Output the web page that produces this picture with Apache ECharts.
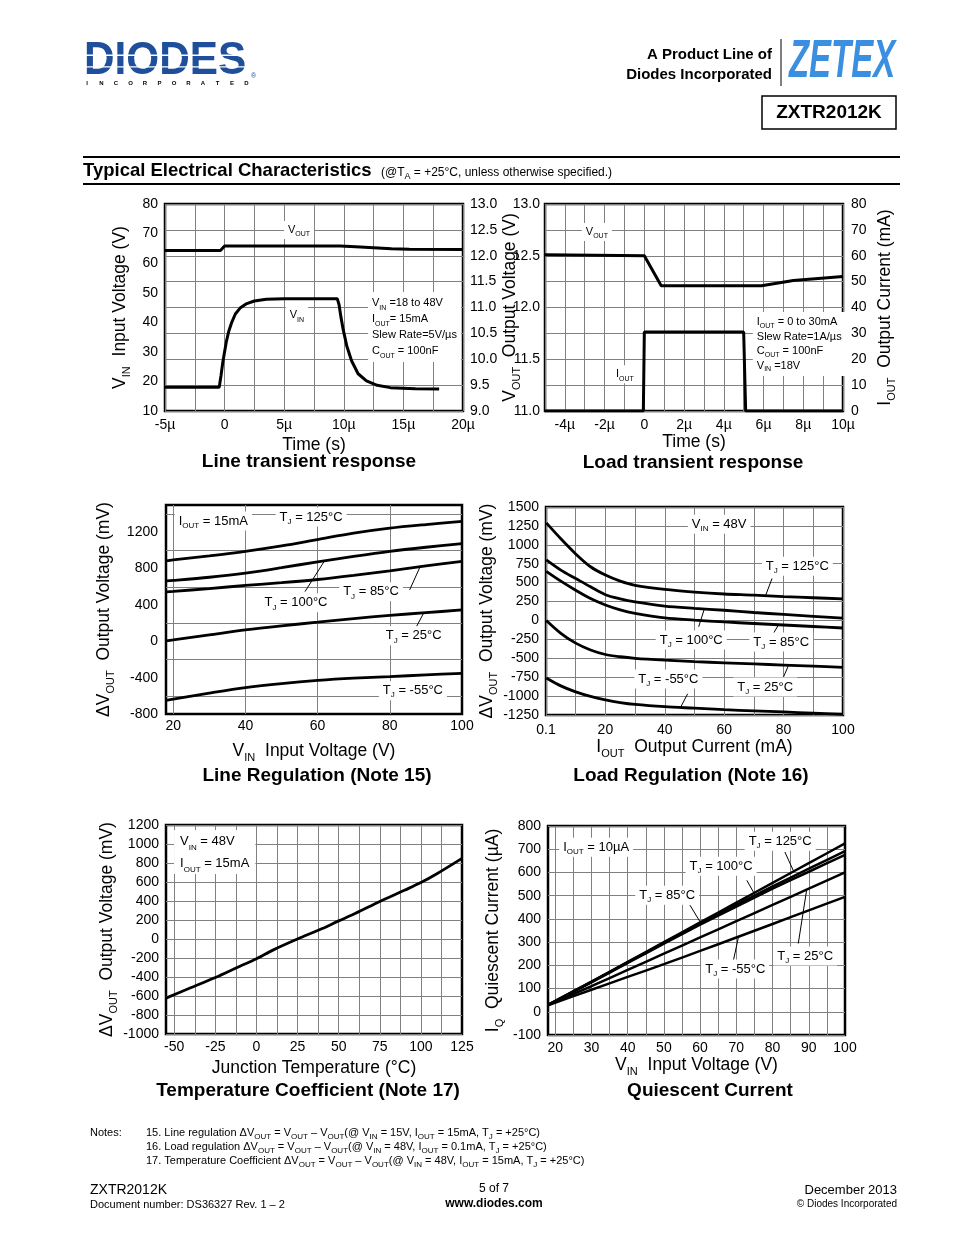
<!DOCTYPE html>
<html>
<head>
<meta charset="utf-8">
<script src="https://cdn.jsdelivr.net/npm/echarts@6.0.0/dist/echarts.min.js"></script>
<style>
html,body{margin:0;padding:0;background:#ffffff;}
#chart{width:954px;height:1235px;}
</style>
</head>
<body>
<div id="chart"></div>
<script>
const FONT = "'Liberation Sans', Arial, Helvetica, sans-serif";

// ---------------- DATA ----------------
// Line transient response (time in µs)
const ltVinTime = [-5, -0.45, -0.3, -0.15, 0, 0.15, 0.35, 0.6, 0.9, 1.3, 1.8, 2.5, 3.5, 5, 9.45, 9.6, 9.75, 9.95, 10.25, 10.65, 11.2, 11.9, 12.8, 13.9, 16, 18];
const ltVin = [18, 18, 22, 26.5, 30, 33.5, 37, 40, 42.8, 44.8, 46.2, 47.2, 47.8, 48, 48, 46, 42, 37.5, 32, 27, 22.6, 20.2, 18.7, 17.9, 17.5, 17.4];
const ltVoutTime = [-5, -0.35, 0, 9.7, 11, 12.5, 14, 15.5, 20];
const ltVout = [12.1, 12.1, 12.19, 12.19, 12.175, 12.155, 12.135, 12.125, 12.12];

// Load transient response
const ldVoutTime = [-5, 0, 0.85, 5.9, 7.5, 10];
const ldVout = [12.51, 12.5, 12.21, 12.21, 12.26, 12.3];
const ldIoutTime = [-5, -0.05, 0, 5.0, 5.1, 10];
const ldIout = [0, 0, 30.5, 30.5, 0, 0];

// Line regulation (VIN in V, dVout in mV)
const lrVin = [18, 20, 30, 40, 50, 60, 70, 80, 90, 100];
const lrT125 = [885, 895, 940, 990, 1050, 1120, 1190, 1245, 1285, 1320];
const lrT100 = [665, 670, 705, 750, 810, 875, 935, 990, 1035, 1075];
const lrT85 = [545, 550, 580, 615, 645, 680, 725, 775, 830, 880];
const lrT25 = [5, 15, 70, 125, 170, 210, 250, 285, 315, 345];
const lrTm55 = [-650, -635, -570, -510, -465, -430, -405, -388, -370, -352];

// Load regulation (IOUT in mA, dVout in mV)
const lgIout = [0.1, 5, 10, 15, 20, 25, 30, 40, 50, 60, 70, 80, 90, 100];
const lgT125 = [1290, 1080, 880, 710, 600, 520, 465, 410, 375, 350, 335, 315, 300, 285];
const lgT100 = [800, 665, 555, 445, 340, 285, 245, 190, 160, 135, 105, 80, 55, 30];
const lgT85 = [650, 520, 400, 290, 205, 140, 95, 35, 5, -20, -40, -60, -80, -100];
const lgT25 = [0, -170, -300, -390, -450, -480, -500, -525, -545, -560, -575, -590, -605, -620];
const lgTm55 = [-760, -865, -945, -1005, -1050, -1085, -1110, -1140, -1160, -1180, -1195, -1210, -1225, -1240];

// Temperature coefficient (°C, mV)
const tcTemp = [-55, -40, -25, -10, 0, 10, 25, 40, 50, 60, 75, 90, 100, 110, 125];
const tcDv = [-622, -514, -405, -286, -209, -117, 0, 110, 191, 268, 394, 513, 594, 690, 849];

// Quiescent current (VIN in V, IQ in µA)
const qcVin = [18, 30, 40, 50, 60, 70, 80, 90, 100];
const qcT125 = [30, 130, 215, 300, 385, 470, 555, 640, 725];
const qcT100 = [30, 129, 213, 297, 380, 460, 540, 616, 692];
const qcT85 = [30, 127, 210, 293, 375, 453, 530, 603, 676];
const qcT25 = [30, 110, 180, 250, 320, 390, 460, 530, 600];
const qcTm55 = [28, 95, 150, 205, 262, 320, 378, 437, 495];

// tick categories for axes whose ticks don't start at the axis min
const lrXCats = []; for (let v = 18; v <= 100; v++) lrXCats.push(String(v));
const lrYGridCats = []; for (let v = -800; v <= 1500; v += 100) lrYGridCats.push(String(v));
const tcXCats = []; for (let v = -55; v <= 125; v += 2.5) tcXCats.push(String(v));
const qcXCats = []; for (let v = 18; v <= 100; v++) qcXCats.push(String(v));

// ---------------- HELPERS ----------------
function rt(s, m, sb) {
  m = m || 'a'; sb = sb || 's';
  return s.split('\n').map(line => {
    const parts = line.split(/_\{([^}]*)\}/);
    let out = '';
    parts.forEach((p, i) => { if (p === '') return; out += '{' + (i % 2 ? sb : m) + '|' + p + '}'; });
    return out;
  }).join('\n');
}
const zip = (xs, ys) => xs.map((x, i) => [x, ys[i]]);

const GL = {show: true, lineStyle: {color: '#808080', width: 1}};
const LBL = {color: '#000', fontSize: 14, fontFamily: FONT};
const NAME_RICH = {
  n: {fontSize: 17.5, fontFamily: FONT, color: '#000', lineHeight: 24},
  s: {fontSize: 11, fontFamily: FONT, color: '#000', lineHeight: 12, verticalAlign: 'bottom'}
};
const nameTS = () => ({rich: NAME_RICH, color: '#000', fontFamily: FONT});
const plain = v => String(v);

function vAxis(o) {
  const r = Object.assign({
    type: 'value', axisLine: {show: false, onZero: false}, axisTick: {show: false},
    splitLine: {show: false}, nameLocation: 'middle', nameTextStyle: nameTS()
  }, o);
  r.axisLabel = Object.assign({formatter: plain}, LBL, o.axisLabel || {});
  return r;
}
function hAxis(o) {
  return Object.assign({type: 'value', show: false, axisLine: {show: false, onZero: false}}, o);
}
function catAxis(o) {
  const r = Object.assign({
    type: 'category', boundaryGap: false, axisLine: {show: false, onZero: false}, axisTick: {show: false},
    splitLine: {show: false}, nameLocation: 'middle', nameTextStyle: nameTS()
  }, o);
  r.axisLabel = Object.assign({show: false}, LBL, o.axisLabel || {});
  return r;
}
const muFmt = step => v => (Math.abs(v % step) < 1e-9) ? (v === 0 ? '0' : v + 'µ') : '';

function line(xi, yi, xs, ys, smooth, w) {
  return {type: 'line', xAxisIndex: xi, yAxisIndex: yi, data: zip(xs, ys), showSymbol: false, symbol: 'none',
    smooth: smooth || false, lineStyle: {color: '#000', width: w || 3}, silent: true, z: 3};
}

// ---------------- OPTION ----------------
const gridPos = [
  {left: 165, top: 204, width: 298, height: 207},
  {left: 545, top: 204, width: 298, height: 207},
  {left: 166, top: 505, width: 296, height: 209},
  {left: 546, top: 507, width: 297, height: 208},
  {left: 166, top: 825, width: 296, height: 209},
  {left: 548, top: 826, width: 297, height: 209}
];

const leaders = [
  {xi: 2, yi: 4, pts: [[56.5, 547], [62, 890]]},
  {xi: 2, yi: 4, pts: [[85.5, 566], [88.5, 830]]},
  {xi: 2, yi: 4, pts: [[87.4, 163], [89.3, 305]]},
  {xi: 4, yi: 6, pts: [[76.1, 555], [74, 335]]},
  {xi: 4, yi: 6, pts: [[51.4, -84], [53.3, 150]]},
  {xi: 4, yi: 6, pts: [[76.6, -171], [78.3, -55]]},
  {xi: 4, yi: 6, pts: [[45.3, -1150], [47.7, -970]]},
  {xi: 4, yi: 6, pts: [[80, -744], [81.7, -590]]},
  {xi: 7, yi: 8, pts: [[83.4, 688], [85.7, 609]]},
  {xi: 7, yi: 8, pts: [[72.9, 566], [75.2, 502]]},
  {xi: 7, yi: 8, pts: [[57.2, 459], [60, 387]]},
  {xi: 7, yi: 8, pts: [[87.1, 294], [89.4, 523]]},
  {xi: 7, yi: 8, pts: [[69.2, 222], [70.6, 323]]}
];

const option = {
  animation: false,
  backgroundColor: '#fff',
  grid: gridPos.map(g => Object.assign({show: true, borderColor: '#000', borderWidth: 2.5, backgroundColor: 'transparent', containLabel: false, outerBoundsMode: 'none'}, g)),
  xAxis: [
    vAxis({gridIndex: 0, position: 'bottom', min: -5, max: 20, interval: 2.5, splitLine: GL,
      axisLabel: {margin: 7, formatter: muFmt(5)}, name: rt('Time (s)', 'n'), nameGap: 22}),
    vAxis({gridIndex: 1, position: 'bottom', min: -5, max: 10, interval: 1, splitLine: GL,
      axisLabel: {margin: 7, formatter: muFmt(2)}, name: rt('Time (s)', 'n'), nameGap: 17}),
    hAxis({gridIndex: 2, min: 18, max: 100}),
    catAxis({gridIndex: 2, position: 'bottom', data: lrXCats,
      axisLabel: {show: true, margin: 5, interval: (i, v) => Number(v) % 20 === 0},
      splitLine: Object.assign({}, GL, {interval: (i, v) => { const n = Number(v); return n % 20 === 0 && n < 100; }}),
      name: rt('V_{IN}  Input Voltage (V)', 'n'), nameGap: 25}),
    vAxis({gridIndex: 3, position: 'bottom', min: 0, max: 100, interval: 10, splitLine: GL,
      axisLabel: {margin: 8, formatter: v => v === 0 ? '0.1' : (v % 20 === 0 ? String(v) : '')},
      name: rt('I_{OUT}  Output Current (mA)', 'n'), nameGap: 20}),
    hAxis({gridIndex: 4, min: -55, max: 125}),
    catAxis({gridIndex: 4, position: 'bottom', data: tcXCats,
      axisLabel: {show: true, margin: 6, interval: (i, v) => { const n = Number(v); return n % 25 === 0 && n >= -50; }},
      splitLine: Object.assign({}, GL, {interval: (i, v) => { const n = Number(v); return (n + 50) % 12.5 === 0 && n > -55 && n < 125; }}),
      name: rt('Junction Temperature (°C)', 'n'), nameGap: 22}),
    hAxis({gridIndex: 5, min: 18, max: 100}),
    catAxis({gridIndex: 5, position: 'bottom', data: qcXCats,
      axisLabel: {show: true, margin: 6, interval: (i, v) => { const n = Number(v); return n % 10 === 0 && n >= 20; }},
      splitLine: Object.assign({}, GL, {interval: (i, v) => { const n = Number(v); return n % 5 === 0 && n >= 20 && n < 100; }}),
      name: rt('V_{IN}  Input Voltage (V)', 'n'), nameGap: 18})
  ],
  yAxis: [
    vAxis({gridIndex: 0, position: 'left', min: 10, max: 80, interval: 10, axisLabel: {margin: 7},
      name: rt('V_{IN}  Input Voltage (V)', 'n'), nameRotate: 90, nameGap: 33}),
    vAxis({gridIndex: 0, position: 'right', min: 9, max: 13, interval: 0.5, splitLine: GL,
      axisLabel: {margin: 7, formatter: v => v.toFixed(1)},
      name: rt('V_{OUT}  Output Voltage (V)', 'n'), nameRotate: 90, nameGap: 32}),
    vAxis({gridIndex: 1, position: 'left', min: 11, max: 13, interval: 0.5,
      axisLabel: {margin: 5, formatter: v => v.toFixed(1)}}),
    vAxis({gridIndex: 1, position: 'right', min: 0, max: 80, interval: 10, splitLine: GL, axisLabel: {margin: 8},
      name: rt('I_{OUT}  Output Current (mA)', 'n'), nameRotate: 90, nameGap: 30}),
    vAxis({gridIndex: 2, position: 'left', min: -800, max: 1500, interval: 400,
      axisLabel: {margin: 8, formatter: v => v > 1200 ? '' : String(v)},
      name: rt('ΔV_{OUT}  Output Voltage (mV)', 'n'), nameRotate: 90, nameGap: 50}),
    catAxis({gridIndex: 2, position: 'left', data: lrYGridCats,
      splitLine: Object.assign({}, GL, {interval: (i, v) => { const n = Number(v); return (n + 600) % 400 === 0 && n > -800 && n < 1500; }})}),
    vAxis({gridIndex: 3, position: 'left', min: -1250, max: 1500, interval: 250, splitLine: GL, axisLabel: {margin: 7},
      name: rt('ΔV_{OUT}  Output Voltage (mV)', 'n'), nameRotate: 90, nameGap: 45}),
    vAxis({gridIndex: 4, position: 'left', min: -1000, max: 1200, interval: 200, splitLine: GL, axisLabel: {margin: 7},
      name: rt('ΔV_{OUT}  Output Voltage (mV)', 'n'), nameRotate: 90, nameGap: 42}),
    vAxis({gridIndex: 5, position: 'left', min: -100, max: 800, interval: 100, splitLine: GL, axisLabel: {margin: 7},
      name: rt('I_{Q}  Quiescent Current (µA)', 'n'), nameRotate: 90, nameGap: 43})
  ],
  series: [
    line(0, 0, ltVinTime, ltVin),
    line(0, 1, ltVoutTime, ltVout),
    line(1, 2, ldVoutTime, ldVout),
    line(1, 3, ldIoutTime, ldIout),
    line(2, 4, lrVin, lrT125, 0.3, 2.8),
    line(2, 4, lrVin, lrT100, 0.3, 2.8),
    line(2, 4, lrVin, lrT85, 0.3, 2.8),
    line(2, 4, lrVin, lrT25, 0.3, 2.8),
    line(2, 4, lrVin, lrTm55, 0.3, 2.8),
    line(4, 6, lgIout, lgT125, 0.3, 2.8),
    line(4, 6, lgIout, lgT100, 0.3, 2.8),
    line(4, 6, lgIout, lgT85, 0.3, 2.8),
    line(4, 6, lgIout, lgT25, 0.3, 2.8),
    line(4, 6, lgIout, lgTm55, 0.3, 2.8),
    line(5, 7, tcTemp, tcDv, 0.3, 2.8),
    line(7, 8, qcVin, qcT125, 0.2, 2.5),
    line(7, 8, qcVin, qcT100, 0.2, 2.5),
    line(7, 8, qcVin, qcT85, 0.2, 2.5),
    line(7, 8, qcVin, qcT25, 0.2, 2.5),
    line(7, 8, qcVin, qcTm55, 0.2, 2.5)
  ].concat(leaders.map(l => ({type: 'line', xAxisIndex: l.xi, yAxisIndex: l.yi, data: l.pts, showSymbol: false,
    symbol: 'none', lineStyle: {color: '#000', width: 1}, silent: true, z: 4})))
};

const chart = echarts.init(document.getElementById('chart'), null, {width: 954, height: 1235});
chart.setOption(option);

// ---------------- ANNOTATIONS (placed in data coordinates) ----------------
const RICH = {
  sm16: {a: {fontFamily: FONT, fontSize: 11, lineHeight: 16, fill: '#000'}, s: {fontFamily: FONT, fontSize: 7, lineHeight: 9, verticalAlign: 'bottom', fill: '#000'}},
  sm14: {a: {fontFamily: FONT, fontSize: 11, lineHeight: 14.5, fill: '#000'}, s: {fontFamily: FONT, fontSize: 7, lineHeight: 9, verticalAlign: 'bottom', fill: '#000'}},
  md: {a: {fontFamily: FONT, fontSize: 13, lineHeight: 17, fill: '#000'}, s: {fontFamily: FONT, fontSize: 8, lineHeight: 10, verticalAlign: 'bottom', fill: '#000'}},
  md22: {a: {fontFamily: FONT, fontSize: 13, lineHeight: 22, fill: '#000'}, s: {fontFamily: FONT, fontSize: 8, lineHeight: 12, verticalAlign: 'bottom', fill: '#000'}}
};
const annots = [
  {xi: 0, yi: 0, x: 6.24, y: 71.2, t: 'V_{OUT}', r: 'sm16'},
  {xi: 0, yi: 0, x: 6.07, y: 42.4, t: 'V_{IN}', r: 'sm16'},
  {xi: 0, yi: 0, x: 12.03, y: 50.2, t: 'V_{IN} =18 to 48V\nI_{OUT}= 15mA\nSlew Rate=5V/µs\nC_{OUT} = 100nF', r: 'sm16', align: 'left', va: 'top', pad: [3, 4]},
  {xi: 1, yi: 3, x: -2.39, y: 69.2, t: 'V_{OUT}', r: 'sm16'},
  {xi: 1, yi: 3, x: -0.98, y: 14.2, t: 'I_{OUT}', r: 'sm16'},
  {xi: 1, yi: 3, x: 5.46, y: 38.3, t: 'I_{OUT} = 0 to 30mA\nSlew Rate=1A/µs\nC_{OUT} = 100nF\nV_{IN} =18V', r: 'sm14', align: 'left', va: 'top', pad: [3, 4]},
  {xi: 2, yi: 4, x: 31.1, y: 1324, t: 'I_{OUT} = 15mA', r: 'md'},
  {xi: 2, yi: 4, x: 58.2, y: 1368, t: 'T_{J} = 125°C', r: 'md'},
  {xi: 2, yi: 4, x: 54, y: 423, t: 'T_{J} = 100°C', r: 'md'},
  {xi: 2, yi: 4, x: 74.8, y: 544, t: 'T_{J} = 85°C', r: 'md'},
  {xi: 2, yi: 4, x: 86.6, y: 60, t: 'T_{J} = 25°C', r: 'md'},
  {xi: 2, yi: 4, x: 86.4, y: -544, t: 'T_{J} = -55°C', r: 'md'},
  {xi: 4, yi: 6, x: 58.3, y: 1271, t: 'V_{IN} = 48V', r: 'md'},
  {xi: 4, yi: 6, x: 84.6, y: 717, t: 'T_{J} = 125°C', r: 'md'},
  {xi: 4, yi: 6, x: 48.9, y: -260, t: 'T_{J} = 100°C', r: 'md'},
  {xi: 4, yi: 6, x: 79.2, y: -286, t: 'T_{J} = 85°C', r: 'md'},
  {xi: 4, yi: 6, x: 41.2, y: -775, t: 'T_{J} = -55°C', r: 'md'},
  {xi: 4, yi: 6, x: 73.8, y: -880, t: 'T_{J} = 25°C', r: 'md'},
  {xi: 5, yi: 7, x: -50.1, y: 1148, t: 'V_{IN} = 48V\nI_{OUT} = 15mA', r: 'md22', align: 'left', va: 'top', pad: [0, 6]},
  {xi: 7, yi: 8, x: 31.3, y: 708, t: 'I_{OUT} = 10µA', r: 'md'},
  {xi: 7, yi: 8, x: 82.1, y: 734, t: 'T_{J} = 125°C', r: 'md'},
  {xi: 7, yi: 8, x: 65.8, y: 627, t: 'T_{J} = 100°C', r: 'md'},
  {xi: 7, yi: 8, x: 50.9, y: 502, t: 'T_{J} = 85°C', r: 'md'},
  {xi: 7, yi: 8, x: 89.0, y: 240, t: 'T_{J} = 25°C', r: 'md'},
  {xi: 7, yi: 8, x: 69.7, y: 184, t: 'T_{J} = -55°C', r: 'md'}
];

const graphics = [];
annots.forEach(a => {
  const p = chart.convertToPixel({xAxisIndex: a.xi, yAxisIndex: a.yi}, [a.x, a.y]);
  graphics.push({type: 'text', x: p[0], y: p[1], z: 50, silent: true,
    style: {text: rt(a.t), rich: RICH[a.r], align: a.align || 'center', verticalAlign: a.va || 'middle',
      backgroundColor: '#fff', padding: a.pad || [1, 4], fill: '#000'}});
});

// ---------------- PAGE TEXT ----------------
function txt(x, y, text, font, align, extra) {
  return Object.assign({type: 'text', x: x, y: y, z: 60, silent: true,
    style: {text: text, font: font, fill: '#000', align: align || 'left', verticalAlign: 'middle'}}, extra || {});
}
function richTxt(x, y, text, size, subSize, align, bold) {
  const w = bold ? 'bold' : 'normal';
  return {type: 'text', x: x, y: y, z: 60, silent: true,
    style: {text: rt(text), align: align || 'left', verticalAlign: 'middle',
      rich: {a: {fontFamily: FONT, fontSize: size, fontWeight: w, lineHeight: size + 4, fill: '#000'},
             s: {fontFamily: FONT, fontSize: subSize, fontWeight: w, lineHeight: subSize + 1, verticalAlign: 'bottom', fill: '#000'}}}};
}
// logo
graphics.push({type: 'text', x: 84, y: 61, scaleX: 0.9, z: 60, silent: true,
  style: {text: 'DIODES', font: 'bold 47px ' + FONT, fill: '#1f4f9b', verticalAlign: 'middle'}});
graphics.push({type: 'rect', z: 61, silent: true, shape: {x: 82, y: 54.6, width: 168, height: 1.3}, style: {fill: '#fff'}});
graphics.push({type: 'rect', z: 61, silent: true, shape: {x: 82, y: 66.2, width: 168, height: 1.3}, style: {fill: '#fff'}});
graphics.push(txt(251, 76, '®', '7px ' + FONT, 'left', {style: {text: '®', font: '7px ' + FONT, fill: '#1f4f9b', verticalAlign: 'middle'}}));
'INCORPORATED'.split('').forEach((ch, i) => graphics.push(txt(87 + i * 14.5, 83.5, ch, 'bold 6px ' + FONT, 'center')));
graphics.push(txt(772, 55, 'A Product Line of', 'bold 15px ' + FONT, 'right'));
graphics.push(txt(772, 75, 'Diodes Incorporated', 'bold 15px ' + FONT, 'right'));
graphics.push({type: 'line', z: 60, silent: true, shape: {x1: 781, y1: 39, x2: 781, y2: 86}, style: {stroke: '#000', lineWidth: 1}});
graphics.push({type: 'text', x: 789, y: 62.5, scaleX: 0.61, z: 60, silent: true,
  style: {text: 'ZETEX', font: 'italic bold 54px ' + FONT, fill: '#3b8fe0', verticalAlign: 'middle'}});
graphics.push({type: 'rect', z: 60, silent: true, shape: {x: 762, y: 96, width: 134, height: 33}, style: {fill: 'none', stroke: '#000', lineWidth: 1.5}});
graphics.push(txt(829, 113, 'ZXTR2012K', 'bold 19px ' + FONT, 'center'));
// section heading
graphics.push({type: 'line', z: 60, silent: true, shape: {x1: 83, y1: 157, x2: 900, y2: 157}, style: {stroke: '#000', lineWidth: 2}});
graphics.push({type: 'line', z: 60, silent: true, shape: {x1: 83, y1: 184, x2: 900, y2: 184}, style: {stroke: '#000', lineWidth: 2}});
graphics.push(txt(83, 171, 'Typical Electrical Characteristics', 'bold 18.5px ' + FONT, 'left'));
graphics.push(richTxt(381, 173, '(@T_{A} = +25°C, unless otherwise specified.)', 12, 9, 'left'));
// chart titles
[[309, 462, 'Line transient response'], [693, 463, 'Load transient response'],
 [317, 776, 'Line Regulation (Note 15)'], [691, 776, 'Load Regulation (Note 16)'],
 [308, 1091, 'Temperature Coefficient (Note 17)'], [710, 1091, 'Quiescent Current']]
  .forEach(t => graphics.push(txt(t[0], t[1], t[2], 'bold 19px ' + FONT, 'center')));
// notes
graphics.push(txt(90, 1133, 'Notes:', '11px ' + FONT, 'left'));
graphics.push(richTxt(146, 1133, '15. Line regulation ΔV_{OUT} = V_{OUT} – V_{OUT}(@ V_{IN} = 15V, I_{OUT} = 15mA, T_{J} = +25°C)', 11, 8, 'left'));
graphics.push(richTxt(146, 1147, '16. Load regulation ΔV_{OUT} = V_{OUT} – V_{OUT}(@ V_{IN} = 48V, I_{OUT} = 0.1mA, T_{J} = +25°C)', 11, 8, 'left'));
graphics.push(richTxt(146, 1161, '17. Temperature Coefficient ΔV_{OUT} = V_{OUT} – V_{OUT}(@ V_{IN} = 48V, I_{OUT} = 15mA, T_{J} = +25°C)', 11, 8, 'left'));
// footer
graphics.push(txt(90, 1190, 'ZXTR2012K', '14px ' + FONT, 'left'));
graphics.push(txt(90, 1205, 'Document number: DS36327 Rev. 1 – 2', '11px ' + FONT, 'left'));
graphics.push(txt(494, 1189, '5 of 7', '12px ' + FONT, 'center'));
graphics.push(txt(494, 1204, 'www.diodes.com', 'bold 12px ' + FONT, 'center'));
graphics.push(txt(897, 1190, 'December 2013', '13px ' + FONT, 'right'));
graphics.push(txt(897, 1204, '© Diodes Incorporated', '10px ' + FONT, 'right'));

chart.setOption({graphic: graphics});
</script>
</body>
</html>
